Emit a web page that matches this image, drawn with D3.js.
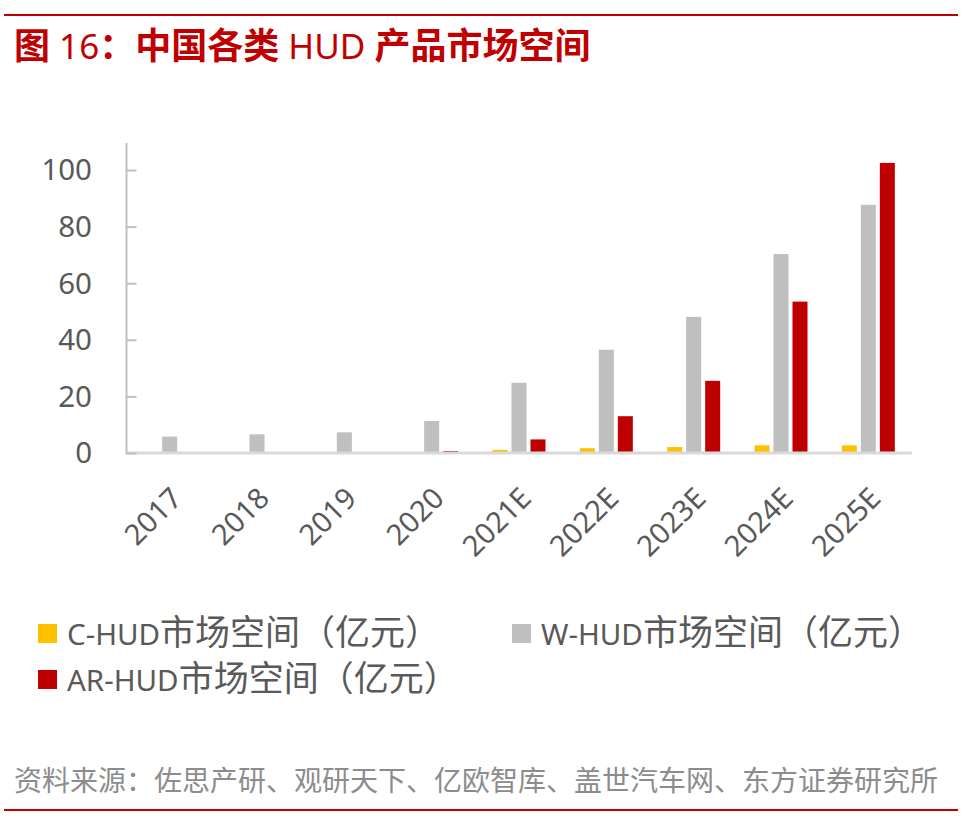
<!DOCTYPE html>
<html>
<head>
<meta charset="utf-8">
<script src="https://cdn.jsdelivr.net/npm/d3@7"></script>
<style>
html,body{margin:0;padding:0;background:#fff;}
svg{display:block;}
</style>
</head>
<body>
<svg id="chart" width="963" height="821"></svg>
<script>
const categories = ["2017","2018","2019","2020","2021E","2022E","2023E","2024E","2025E"];
const seriesNames = ["C-HUD","W-HUD","AR-HUD"];
const cHud  = [0, 0.2, 0.2, 0.3, 1.1, 1.7, 2.1, 2.7, 2.7];
const wHud  = [5.8, 6.6, 7.3, 11.3, 24.8, 36.5, 48.1, 70.3, 87.7];
const arHud = [0, 0, 0.2, 0.7, 4.8, 13.0, 25.5, 53.5, 102.5];
const yTicks = [0, 20, 40, 60, 80, 100];
const colors = {"C-HUD":"#ffc000","W-HUD":"#bfbfbf","AR-HUD":"#c00000"};
const seriesValues = {"C-HUD":cHud,"W-HUD":wHud,"AR-HUD":arHud};
const legendSuffix = "市场空间（亿元）";

const svg = d3.select("#chart");
const latin = "'Noto Sans','Open Sans',sans-serif";
const cjk = "'Noto Sans CJK SC','Noto Sans',sans-serif";

// top & bottom rules
svg.append("line").attr("x1",4).attr("x2",958).attr("y1",15).attr("y2",15)
  .attr("stroke","#c00000").attr("stroke-width",2);
svg.append("line").attr("x1",4).attr("x2",958).attr("y1",810).attr("y2",810)
  .attr("stroke","#c00000").attr("stroke-width",2);

// title
const title = svg.append("text").attr("x",14).attr("y",59).attr("fill","#c00000");
const titleParts = [["图",cjk,700],[" 16",latin,400],["：中国各类",cjk,700],[" HUD ",latin,400],["产品市场空间",cjk,700]];
titleParts.forEach(p=>{
  title.append("tspan").attr("font-family",p[1]).attr("font-weight",p[2])
    .attr("font-size", p[1]===latin?35:36).text(p[0]);
});

// scales
const x0 = d3.scaleBand().domain(categories).range([126,912]);
const x1 = d3.scaleBand().domain(seriesNames).range([-26.5,26.5]).paddingInner(4/19);
const y = d3.scaleLinear().domain([0,110]).range([453, 453-110*2.83]);

// bars
const g = svg.append("g");
seriesNames.forEach(s=>{
  g.selectAll(null).data(seriesValues[s]).enter().append("rect")
    .attr("x",(d,i)=>x0(categories[i])+x0.bandwidth()/2 + x1(s))
    .attr("width",x1.bandwidth())
    .attr("y",d=>y(d))
    .attr("height",d=>y(0)-y(d))
    .attr("fill",colors[s]);
});

// x axis line
svg.append("line").attr("x1",126).attr("x2",912).attr("y1",y(0)).attr("y2",y(0))
  .attr("stroke","#d9d9d9").attr("stroke-width",3);

// y axis
const yAxis = d3.axisRight(y).tickValues(yTicks).tickSize(10).tickFormat("");
const ya = svg.append("g").attr("transform","translate(126.5,0)").call(yAxis);
ya.select(".domain").attr("stroke","#bfbfbf").attr("stroke-width",2)
  .attr("d",`M0,${y(0)+1}V143`);
ya.selectAll(".tick line").attr("stroke","#bfbfbf").attr("stroke-width",2);

svg.append("g").selectAll("text").data(yTicks).enter().append("text")
  .attr("x",92).attr("y",d=>y(d)).attr("dy","0.35em")
  .attr("text-anchor","end").attr("font-family",latin).attr("font-size",29.5)
  .attr("fill","#595959").text(d=>d);

// x labels
svg.append("g").selectAll("text").data(categories).enter().append("text")
  .attr("transform",d=>`translate(${x0(d)+x0.bandwidth()/2+14},500) rotate(-45)`)
  .attr("text-anchor","end").attr("font-family",latin).attr("font-size",29)
  .attr("fill","#595959").text(d=>d);

// legend
const legendPos = [[38,624],[512,624],[38,670]];
seriesNames.forEach((s,i)=>{
  const [lx,ly] = legendPos[i];
  svg.append("rect").attr("x",lx).attr("y",ly).attr("width",19).attr("height",19)
    .attr("fill",colors[s]);
  const t = svg.append("text").attr("x",lx+29).attr("y",ly+21).attr("fill","#595959");
  t.append("tspan").attr("font-family",latin).attr("font-size",29.5).text(s);
  t.append("tspan").attr("font-family",cjk).attr("font-size",35).text(legendSuffix);
});

// source
svg.append("text").attr("x",14).attr("y",791).attr("font-family",cjk).attr("font-size",28)
  .attr("fill","#8c8c8c").text("资料来源：佐思产研、观研天下、亿欧智库、盖世汽车网、东方证券研究所");
</script>
</body>
</html>
